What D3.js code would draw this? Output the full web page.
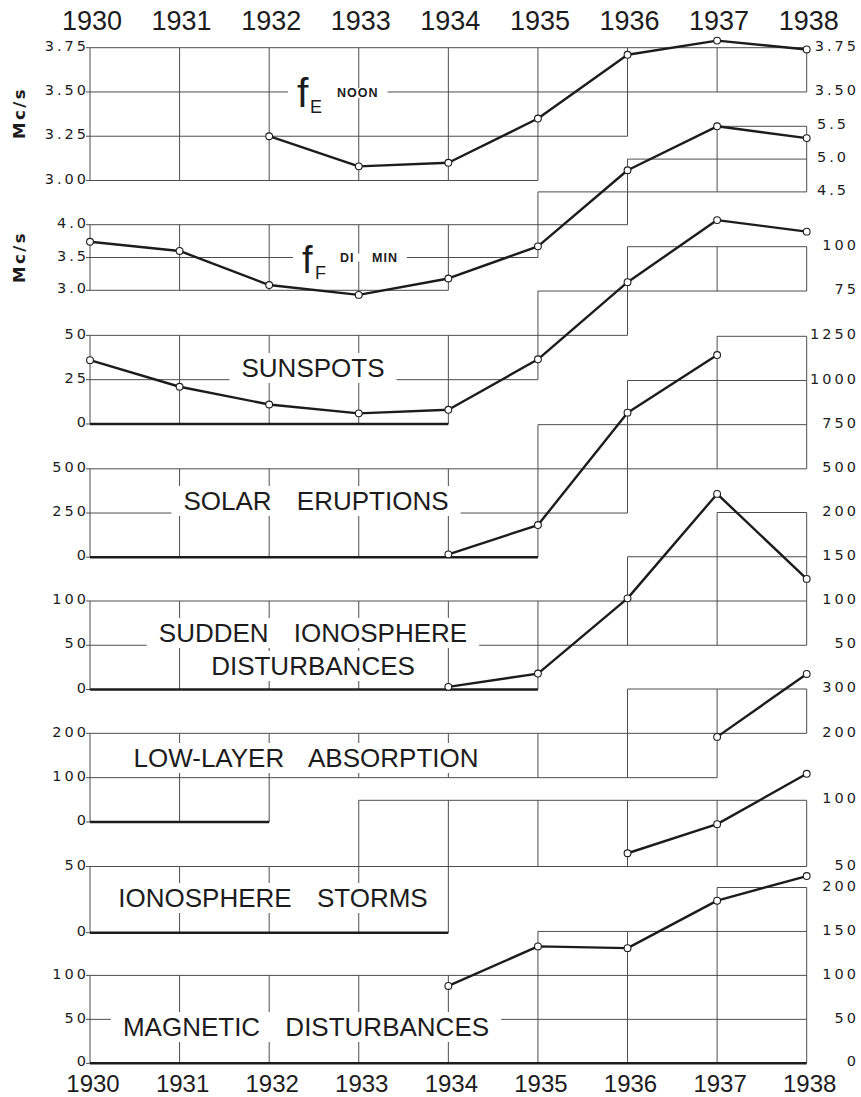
<!DOCTYPE html>
<html>
<head>
<meta charset="utf-8">
<script src="https://cdn.jsdelivr.net/npm/d3@7/dist/d3.min.js"></script>
<style>
  html, body { margin: 0; padding: 0; background: #ffffff; }
  svg { display: block; }
</style>
</head>
<body>
<svg id="chart" width="861" height="1097"></svg>
<script>
// ---- years ----
const years = [1930, 1931, 1932, 1933, 1934, 1935, 1936, 1937, 1938];
const yearLabels = years.map(String);

// ---- yearly series (null = not observed) ----
const fENoon          = [null, null, 3.25, 3.08, 3.10, 3.35, 3.71, 3.79, 3.74];
const fFDiMin         = [3.74, 3.60, 3.08, 2.93, 3.18, 3.67, 4.83, 5.50, 5.32];
const sunspots        = [36, 21, 11, 6, 8, 36.5, 80, 115, 108.5];
const solarEruptions  = [null, null, null, null, 16, 182, 818, 1144, null];
const suddenDist      = [null, null, null, null, 3, 18, 103, 221, 125];
const lowLayerAbs     = [null, null, null, null, null, null, null, 192, 334];
const ionoStorms      = [null, null, null, null, null, null, 60, 82, 120];
const magneticDist    = [null, null, null, null, 88, 133, 131, 185, 213];

// ---- grid extent of each panel per year interval: [top value, bottom value] ----
const fEFrame    = [[3.75,3.00],[3.75,3.00],[3.75,3.00],[3.75,3.00],[3.75,3.00],[3.75,3.25],[3.75,3.50],[3.75,3.50]];
const fFFrame    = [[4.0,3.0],[4.0,3.0],[4.0,3.0],[4.0,3.0],[4.0,3.5],[4.5,4.0],[5.0,4.5],[5.5,4.5]];
const sunFrame   = [[50,0],[50,0],[50,0],[50,0],[50,25],[75,50],[100,75],[100,75]];
const solarFrame = [[500,0],[500,0],[500,0],[500,0],[500,0],[750,250],[1000,500],[1250,500]];
const sidFrame   = [[100,0],[100,0],[100,0],[100,0],[100,0],[100,50],[150,50],[200,50]];
const llFrame    = [[200,0],[200,0],[200,100],[200,100],[200,100],[200,100],[300,100],[300,200]];
const isFrame    = [[50,0],[50,0],[50,0],[100,0],[100,50],[100,50],[100,50],[100,50]];
const magFrame   = [[100,0],[100,0],[100,0],[100,0],[100,0],[150,0],[150,0],[200,0]];

// ---- tick values, left and right scales ----
const fELeft = [3.75, 3.50, 3.25, 3.00],   fERight = [3.75, 3.50];
const fFLeft = [4.0, 3.5, 3.0],            fFRight = [5.5, 5.0, 4.5];
const sunLeft = [50, 25, 0],               sunRight = [100, 75];
const solarLeft = [500, 250, 0],           solarRight = [1250, 1000, 750, 500];
const sidLeft = [100, 50, 0],              sidRight = [200, 150, 100, 50];
const llLeft = [200, 100, 0],              llRight = [300, 200];
const isLeft = [50, 0],                    isRight = [100, 50];
const magLeft = [100, 50, 0],              magRight = [200, 150, 100, 50, 0];

// ---- panel titles ----
const sunTitle   = ["SUNSPOTS"];
const solarTitle = ["SOLAR ERUPTIONS"];
const sidTitle   = ["SUDDEN IONOSPHERE", "DISTURBANCES"];
const llTitle    = ["LOW-LAYER ABSORPTION"];
const isTitle    = ["IONOSPHERE STORMS"];
const magTitle   = ["MAGNETIC DISTURBANCES"];

// ---- layout ----
const svg = d3.select("#chart");
const x = d3.scaleLinear().domain([1930, 1938]).range([90, 806.7]);

const panels = [
  { values: fENoon, frame: fEFrame, left: fELeft, right: fERight, fmt: d3.format(".2f"),
    domain: [3.0, 3.75], range: [180.5, 47.7], rightEnd: 859 },
  { values: fFDiMin, frame: fFFrame, left: fFLeft, right: fFRight, fmt: d3.format(".1f"),
    domain: [3.0, 5.5], range: [290.3, 126.3], rightEnd: 849 },
  { values: sunspots, frame: sunFrame, left: sunLeft, right: sunRight, fmt: d3.format("d"),
    domain: [0, 100], range: [424, 246.7], rightEnd: 859,
    title: sunTitle, titleX: 313, titleY: [377] },
  { values: solarEruptions, frame: solarFrame, left: solarLeft, right: solarRight, fmt: d3.format("d"),
    domain: [0, 1250], range: [557.2, 336.3], rightEnd: 859,
    title: solarTitle, titleX: 316, titleY: [510] },
  { values: suddenDist, frame: sidFrame, left: sidLeft, right: sidRight, fmt: d3.format("d"),
    domain: [0, 200], range: [689.5, 512.5], rightEnd: 859,
    title: sidTitle, titleX: 313, titleY: [642, 675] },
  { values: lowLayerAbs, frame: llFrame, left: llLeft, right: llRight, fmt: d3.format("d"),
    domain: [0, 300], range: [822, 689], rightEnd: 859,
    title: llTitle, titleX: 306, titleY: [767] },
  { values: ionoStorms, frame: isFrame, left: isLeft, right: isRight, fmt: d3.format("d"),
    domain: [0, 100], range: [932.7, 800.3], rightEnd: 859,
    title: isTitle, titleX: 273, titleY: [907] },
  { values: magneticDist, frame: magFrame, left: magLeft, right: magRight, fmt: d3.format("d"),
    domain: [0, 200], range: [1063.3, 887.5], rightEnd: 859,
    title: magTitle, titleX: 306, titleY: [1036] }
];

panels.forEach(p => {
  p.y = d3.scaleLinear().domain(p.domain).range(p.range);
  p.grid = Array.from(new Set([...p.left, ...p.right])).sort(d3.ascending);
});

const INK = "#1c1c1c";
const GRID = "#4d4d4d";
const tickFont = "'DejaVu Sans', sans-serif";
const letterFont = "'Liberation Sans', Arial, sans-serif";

// ---- grid: horizontal runs and vertical year lines ----
const hSegs = [], vSegs = [];
panels.forEach(p => {
  const n = p.frame.length;
  p.grid.forEach(v => {
    let start = null;
    for (let c = 0; c <= n; c++) {
      const inside = c < n && v <= p.frame[c][0] + 1e-9 && v >= p.frame[c][1] - 1e-9;
      if (inside && start === null) start = c;
      if (!inside && start !== null) {
        hSegs.push({ p, v, from: years[start], to: years[c] });
        start = null;
      }
    }
  });
  years.forEach((yr, i) => {
    const cols = [p.frame[i - 1], p.frame[i]].filter(Boolean);
    const top = d3.max(cols, d => d[0]);
    const bottom = d3.min(cols, d => d[1]);
    vSegs.push({ p, yr, top, bottom });
  });
});

const gGrid = svg.append("g");
gGrid.selectAll("line.v").data(vSegs).join("line")
  .attr("class", "v")
  .attr("x1", d => x(d.yr)).attr("x2", d => x(d.yr))
  .attr("y1", d => d.p.y(d.top)).attr("y2", d => d.p.y(d.bottom))
  .attr("stroke", GRID).attr("stroke-width", 1);

gGrid.selectAll("line.h").data(hSegs.filter(d => d.v !== 0)).join("line")
  .attr("class", "h")
  .attr("x1", d => x(d.from)).attr("x2", d => x(d.to))
  .attr("y1", d => d.p.y(d.v)).attr("y2", d => d.p.y(d.v))
  .attr("stroke", GRID).attr("stroke-width", 1);

// zero baselines are drawn heavy
gGrid.selectAll("line.z").data(hSegs.filter(d => d.v === 0)).join("line")
  .attr("class", "z")
  .attr("x1", d => x(d.from)).attr("x2", d => x(d.to))
  .attr("y1", d => d.p.y(d.v)).attr("y2", d => d.p.y(d.v))
  .attr("stroke", INK).attr("stroke-width", 2.6);

// short ticks at the left scale
const leftTicks = panels.flatMap(p => p.left.map(v => ({ p, v })));
gGrid.selectAll("line.t").data(leftTicks).join("line")
  .attr("class", "t")
  .attr("x1", x(1930) - 4).attr("x2", x(1930))
  .attr("y1", d => d.p.y(d.v)).attr("y2", d => d.p.y(d.v))
  .attr("stroke", GRID).attr("stroke-width", 1);

// white clearing behind lettering placed over the grid
const gKnock = svg.append("g");
const gText = svg.append("g").attr("fill", INK);

function knockOut(node, padX, padY) {
  const b = node.getBBox();
  gKnock.append("rect")
    .attr("x", b.x - padX).attr("y", b.y - padY)
    .attr("width", b.width + 2 * padX).attr("height", b.height + 2 * padY)
    .attr("fill", "#ffffff");
}

// ---- scale labels ----
gText.selectAll("text.l").data(leftTicks).join("text")
  .attr("class", "l")
  .attr("x", 89).attr("y", d => d.p.y(d.v))
  .attr("dy", "0.22em")
  .attr("text-anchor", "end")
  .attr("font-family", tickFont).attr("font-size", 14.5)
  .attr("letter-spacing", 3)
  .text(d => d.p.fmt(d.v));

const rightTicks = panels.flatMap(p => p.right.map(v => ({ p, v })));
gText.selectAll("text.r").data(rightTicks).join("text")
  .attr("class", "r")
  .attr("x", d => d.p.rightEnd).attr("y", d => d.p.y(d.v))
  .attr("dy", "0.22em")
  .attr("text-anchor", "end")
  .attr("font-family", tickFont).attr("font-size", 14.5)
  .attr("letter-spacing", 3)
  .text(d => d.p.fmt(d.v));

// ---- year labels, top and bottom ----
gText.selectAll("text.yt").data(years).join("text")
  .attr("class", "yt")
  .attr("x", d => x(d) + 2).attr("y", 30)
  .attr("text-anchor", "middle")
  .attr("font-family", letterFont).attr("font-size", 27)
  .text((d, i) => yearLabels[i]);

gText.selectAll("text.yb").data(years).join("text")
  .attr("class", "yb")
  .attr("x", d => x(d) + 3).attr("y", 1091.8)
  .attr("text-anchor", "middle")
  .attr("font-family", letterFont).attr("font-size", 24)
  .text((d, i) => yearLabels[i]);

// ---- unit labels ----
[[25, 113], [25, 257]].forEach(([ux, uy]) => {
  gText.append("text")
    .attr("transform", `translate(${ux},${uy}) rotate(-90)`)
    .attr("text-anchor", "middle")
    .attr("font-family", tickFont).attr("font-size", 16.5).attr("font-weight", "bold")
    .attr("letter-spacing", 2.5)
    .text("Mc/s");
});

// ---- panel titles ----
panels.filter(p => p.title).forEach(p => {
  p.title.forEach((line, i) => {
    const t = gText.append("text")
      .attr("x", p.titleX).attr("y", p.titleY[i])
      .attr("text-anchor", "middle")
      .attr("font-family", letterFont).attr("font-size", 26)
      .attr("word-spacing", 18)
      .text(line);
    knockOut(t.node(), 12, 0);
  });
});

// ---- critical-frequency symbols ----
function freqSymbol(sub, tags, fx, fy, size, lineValue, panel) {
  const g = gText.append("g");
  const parts = [];
  parts.push(g.append("text").attr("x", fx).attr("y", fy)
    .attr("font-family", letterFont).attr("font-size", size).text("f"));
  parts.push(g.append("text").attr("x", fx + 13).attr("y", fy + 6)
    .attr("font-family", letterFont).attr("font-size", 18).text(sub));
  tags.forEach(tg => {
    parts.push(g.append("text").attr("x", tg.x).attr("y", tg.y)
      .attr("font-family", letterFont).attr("font-size", 12.5).attr("font-weight", "bold")
      .attr("letter-spacing", 1).text(tg.text));
  });
  parts.forEach(t => knockOut(t.node(), 2, -2));
  const b = g.node().getBBox();
  const ly = panel.y(lineValue);
  gKnock.append("rect")
    .attr("x", b.x - 9).attr("y", ly - 4)
    .attr("width", b.width + 18).attr("height", 8)
    .attr("fill", "#ffffff");
}
freqSymbol("E", [{ text: "NOON", x: 337, y: 97 }], 297, 107, 41, 3.5, panels[0]);
freqSymbol("F", [{ text: "DI", x: 340, y: 262 }, { text: "MIN", x: 372, y: 262 }], 302, 273, 38, 3.5, panels[1]);

// ---- series lines and markers ----
const gData = svg.append("g");
panels.forEach(p => {
  const pts = years.map((yr, i) => ({ yr, v: p.values[i] }));
  const line = d3.line()
    .defined(d => d.v !== null)
    .x(d => x(d.yr)).y(d => p.y(d.v));
  gData.append("path")
    .datum(pts)
    .attr("d", line)
    .attr("fill", "none")
    .attr("stroke", INK).attr("stroke-width", 2.4)
    .attr("stroke-linejoin", "round");
  gData.append("g").selectAll("circle")
    .data(pts.filter(d => d.v !== null))
    .join("circle")
    .attr("cx", d => x(d.yr)).attr("cy", d => p.y(d.v))
    .attr("r", 3.4)
    .attr("fill", "#ffffff")
    .attr("stroke", INK).attr("stroke-width", 1.1);
});
</script>
</body>
</html>
